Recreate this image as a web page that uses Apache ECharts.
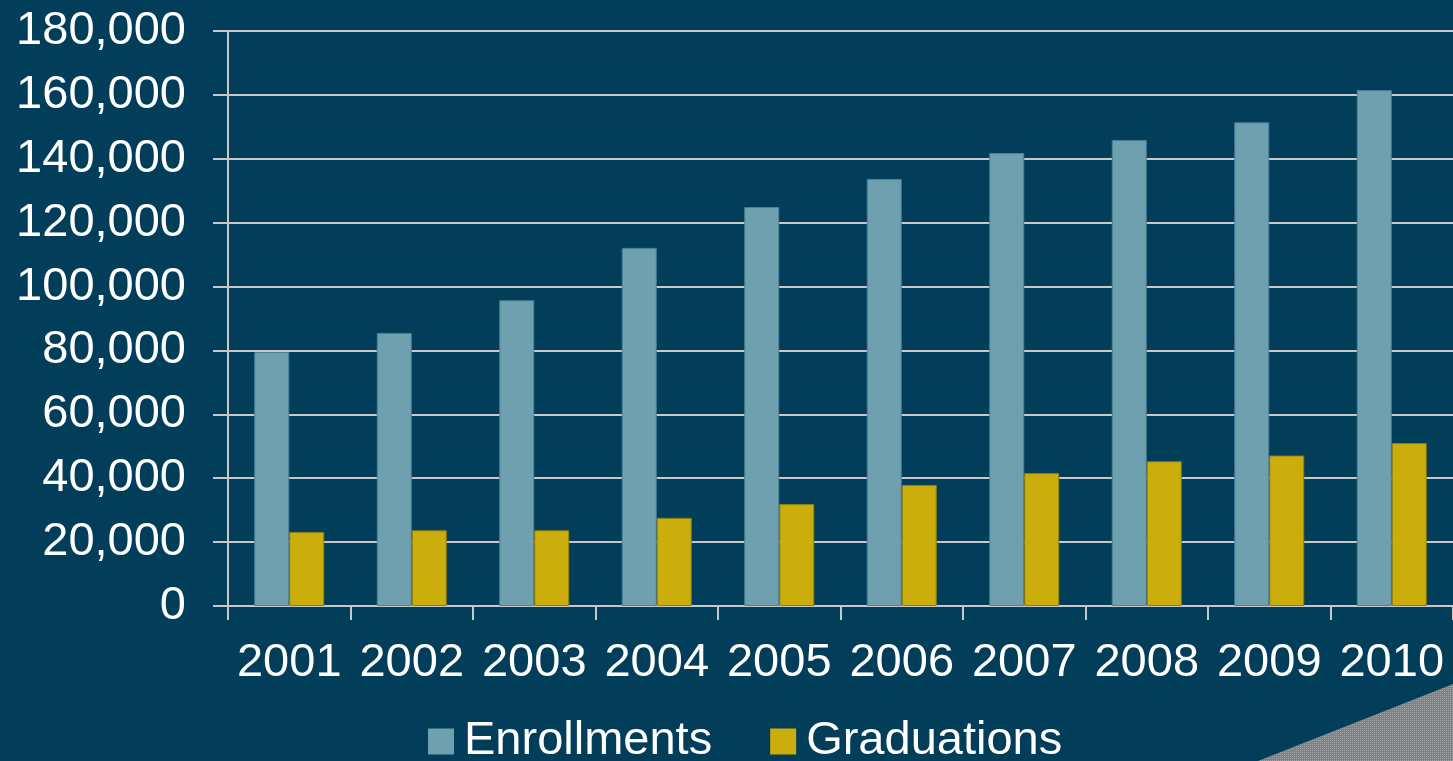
<!DOCTYPE html>
<html>
<head>
<meta charset="utf-8">
<style>
  html, body { margin: 0; padding: 0; background: #023d59; }
  #chart { width: 1453px; height: 761px; }
</style>
<script src="https://cdn.jsdelivr.net/npm/echarts@6/dist/echarts.min.js"></script>
</head>
<body>
<div id="chart"></div>
<script>
// Yearly totals
const years = ['2001', '2002', '2003', '2004', '2005', '2006', '2007', '2008', '2009', '2010'];
const enrollments = [79500, 85500, 95700, 112100, 124900, 133700, 141800, 145900, 151400, 161500];
const graduations = [23200, 23700, 23700, 27600, 31900, 37900, 41600, 45300, 47100, 51000];
const yTicks = { min: 0, max: 180000, interval: 20000 };

const FONT = '"Liberation Sans", Arial, sans-serif';
const GRID_COLOR = '#c8c8c8';

// small dotted texture for the corner accent
function dotPattern() {
  const c = document.createElement('canvas');
  c.width = 2; c.height = 2;
  const g = c.getContext('2d');
  g.fillStyle = '#7e8286'; g.fillRect(0, 0, 2, 2);
  g.fillStyle = '#9ea2a5'; g.fillRect(0, 0, 1, 1);
  return c;
}

const chart = echarts.init(document.getElementById('chart'), null, { renderer: 'canvas' });
chart.setOption({
  backgroundColor: '#023d59',
  animation: false,
  textStyle: { fontFamily: FONT },
  grid: { left: 228, right: -2, top: 31, bottom: 155, containLabel: false },
  legend: {
    left: 428, top: 718, padding: 0,
    itemWidth: 26, itemHeight: 26, itemGap: 58,
    icon: 'rect',
    itemStyle: { borderWidth: 0 },
    textStyle: { color: '#ffffff', fontSize: 47, fontFamily: FONT, padding: [0, 0, 0, 5] },
    data: ['Enrollments', 'Graduations']
  },
  xAxis: {
    type: 'category',
    data: years,
    axisLine: { lineStyle: { color: GRID_COLOR, width: 2 } },
    axisTick: { show: true, length: 14, lineStyle: { color: GRID_COLOR, width: 2 } },
    axisLabel: { color: '#ffffff', fontSize: 47, fontFamily: FONT, margin: 34, interval: 0 }
  },
  yAxis: {
    type: 'value',
    min: yTicks.min, max: yTicks.max, interval: yTicks.interval,
    axisLine: { show: true, lineStyle: { color: GRID_COLOR, width: 2 } },
    axisTick: { show: true, length: 15, lineStyle: { color: GRID_COLOR, width: 2 } },
    splitLine: { show: true, lineStyle: { color: GRID_COLOR, width: 2 } },
    axisLabel: {
      color: '#ffffff', fontSize: 47, fontFamily: FONT, margin: 42,
      formatter: v => v.toLocaleString('en-US')
    }
  },
  series: [
    {
      name: 'Enrollments', type: 'bar', data: enrollments,
      barWidth: 35, barGap: '0%',
      itemStyle: { color: '#6fa0b0', borderColor: '#4d8096', borderWidth: 1 }
    },
    {
      name: 'Graduations', type: 'bar', data: graduations,
      barWidth: 35,
      itemStyle: { color: '#cbad0c', borderColor: '#8f7f12', borderWidth: 1 }
    }
  ],
  graphic: [
    {
      type: 'polygon', z: 100,
      shape: { points: [[1258, 761], [1453, 684], [1453, 761]] },
      style: { fill: { image: dotPattern(), repeat: 'repeat' } }
    }
  ]
});
</script>
</body>
</html>
